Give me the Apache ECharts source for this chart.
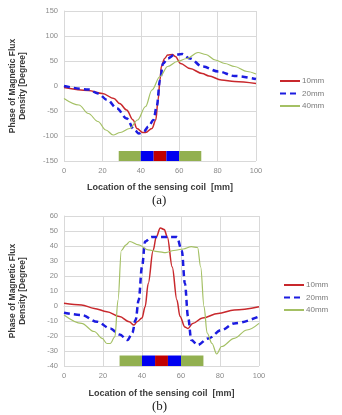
<!DOCTYPE html>
<html><head><meta charset="utf-8">
<script src="https://cdn.jsdelivr.net/npm/echarts@6/dist/echarts.min.js"></script>
<style>html,body{margin:0;padding:0;background:#fff}#c{width:342px;height:415px}</style>
</head><body><div id="c"></div>
<script>
// ---- data ----
const seriesNames = ['10mm', '20mm', '40mm'];
const xTicksMax = 100;
// chart (a)
const a10 = [[0,-3],[12.7,-9],[20,-15],[26,-25],[29,-35],[32.6,-48],[36,-68],[38,-85],[41,-93],[42.5,-93],[45.8,-85],[47.8,-68],[49,-28],[50,12],[50.7,39],[52.4,55],[54,62],[56.5,63],[58,59],[60.7,45],[65.6,35],[72,25],[75.5,20],[82,12],[88.8,9],[100,5]];
const a20 = [[0,0],[12.7,-7],[17.7,-15],[22.6,-28],[27.6,-45],[32.6,-65],[36.7,-88],[39,-95],[41.6,-91],[44,-81],[46.6,-68],[48.3,-41],[50,12],[51.6,45],[54,55],[57.4,62],[61.5,64],[65.6,55],[72,39],[80.5,29],[88.8,20],[100,14]];
const a40 = [[0,-25],[7.8,-38],[12.7,-55],[17.7,-71],[21.8,-88],[25.6,-98],[29.3,-93],[34.2,-85],[38.3,-68],[42.5,-41],[45.8,-8],[50,19],[54,39],[59,49],[64,55],[69.8,67],[73.9,63],[78.8,52],[83.8,45],[88.8,39],[95.4,29],[100,24]];
// chart (b)
const b10 = [[0,1.8],[9,0.7],[15.5,-1.6],[22,-3.8],[28.5,-7],[33.4,-10.5],[35.9,-12.7],[37.5,-10.5],[40,-8],[41.6,-0.5],[43.2,15],[45.7,37],[47.3,46],[49.4,52],[51.4,51],[53,46],[55.5,26],[57.9,4],[59.5,-7],[62,-14],[63.6,-15],[66,-11.6],[71,-8],[79,-5],[87.3,-2.7],[100,-0.5]];
const b20 = [[0,-4.5],[9,-6],[17,-10.5],[23.7,-15],[28.5,-19],[32.6,-22.7],[35,-18],[36.7,-9.4],[38.3,4],[40,26],[41.6,43],[44.9,46],[51.4,46],[57.9,46],[60.4,37],[62,15],[63.6,-7],[65.3,-22.7],[68.5,-26],[74,-21.6],[80.8,-16],[87.3,-11.6],[100,-7]];
const b40 = [[0,-6],[9,-11.6],[15.5,-17],[19.6,-21.6],[22,-25],[23.7,-25],[26.1,-20.5],[27.7,4],[29.4,37],[31.8,40.8],[33.8,43],[38.3,40.8],[43.2,37.4],[48.1,36.3],[52.2,35.6],[56.3,37],[61.2,38],[65.3,39.6],[68.5,39],[70.1,26],[71.8,-0.4],[73.4,-18],[75.9,-25],[78.3,-32],[80.8,-27],[87.3,-21.6],[93.8,-16],[100,-11.6]];
// coil bar segments
const barEdges = [28.5, 40, 46.7, 53.3, 60, 71.5];
const barColors = ['#92b050', '#0000f0', '#c00000', '#0000f0', '#92b050'];
const barA = [-130, -150];
const barB = [-33, -40];
const yAxisA = {min: -150, max: 150, interval: 50};
const yAxisB = {min: -40, max: 60, interval: 10};

const lineColors = ['#c8282c', '#1c1ce0', '#a4c064'];
const grey = '#d9d9d9';
const tickFont = {color: '#8a8a8a', fontSize: 7.5, fontFamily: 'Liberation Sans'};
const titleFont = {color: '#3a3a3a', fontSize: 8.5, fontWeight: 'bold', fontFamily: 'Liberation Sans'};

function markArea(range) {
  const data = [];
  for (let i = 0; i < barColors.length; i++) {
    data.push([{xAxis: barEdges[i], yAxis: range[0], itemStyle: {color: barColors[i], opacity: 1}},
               {xAxis: barEdges[i + 1], yAxis: range[1]}]);
  }
  return {silent: true, data: data, label: {show: false}};
}
function xAx(idx) {
  return {type: 'value', gridIndex: idx, min: 0, max: xTicksMax, interval: 20,
    name: 'Location of the sensing coil  [mm]', nameLocation: 'middle', nameGap: idx ? 23 : 22,
    nameTextStyle: Object.assign({}, titleFont, {fontSize: 9}),
    axisLine: {show: true, lineStyle: {color: grey}}, axisTick: {show: false},
    axisLabel: Object.assign({margin: 6}, tickFont),
    splitLine: {show: true, lineStyle: {color: grey, width: 1}}};
}
function yAx(idx, r) {
  return {type: 'value', gridIndex: idx, min: r.min, max: r.max, interval: r.interval,
    name: 'Phase of Magnetic Flux\nDensity [Degree]', nameLocation: 'middle', nameRotate: 90,
    nameGap: 37, nameTextStyle: Object.assign({lineHeight: 9.5}, titleFont),
    axisLine: {show: true, lineStyle: {color: grey}}, axisTick: {show: false},
    axisLabel: Object.assign({margin: 6}, tickFont),
    splitLine: {show: true, lineStyle: {color: grey, width: 1}}};
}
function line(name, data, idx, ci, extra) {
  const s = {name: name, type: 'line', xAxisIndex: idx, yAxisIndex: idx, data: data,
    showSymbol: false, symbol: 'circle', symbolSize: 0, smooth: 0.35, smoothMonotone: 'x', z: 3,
    lineStyle: Object.assign({color: lineColors[ci], width: 1.5}, extra || {}),
    itemStyle: {color: lineColors[ci]}};
  return s;
}
const series = [
  line('10mm', a10, 0, 0), line('20mm', a20, 0, 1, {type: [6, 4], width: 2.5}), line('40mm', a40, 0, 2, {width: 1.2}),
  line('10mm', b10, 1, 0), line('20mm', b20, 1, 1, {type: [6, 4], width: 2.5}), line('40mm', b40, 1, 2, {width: 1.2})
];
series[0].markArea = markArea(barA);
series[3].markArea = markArea(barB);

const legendBase = {orient: 'vertical', itemWidth: 20, itemHeight: 10, itemGap: 4.5,
  itemStyle: {color: 'rgba(0,0,0,0)', borderWidth: 0, opacity: 0},
  textStyle: {color: '#7a7a7a', fontSize: 8, fontFamily: 'Liberation Sans', padding: [0, 0, 0, -3]},
  data: seriesNames, selectedMode: false};

const chart = echarts.init(document.getElementById('c'), null, {renderer: 'canvas'});
chart.setOption({
  animation: false,
  backgroundColor: '#fff',
  grid: [
    {left: 54, width: 202, top: 11, height: 150},
    {left: 55, width: 204, top: 216, height: 150}
  ],
  xAxis: [xAx(0), xAx(1)],
  yAxis: [yAx(0, yAxisA), yAx(1, yAxisB)],
  legend: [
    Object.assign({}, legendBase, {left: 274, top: 72}),
    Object.assign({}, legendBase, {left: 278, top: 276})
  ],
  graphic: [
    {type: 'text', left: 152, top: 194, style: {text: '(a)', fontSize: 13, fontFamily: 'Liberation Serif', fill: '#222'}},
    {type: 'text', left: 152, top: 400, style: {text: '(b)', fontSize: 13, fontFamily: 'Liberation Serif', fill: '#222'}}
  ],
  series: series
});
</script>
</body></html>
